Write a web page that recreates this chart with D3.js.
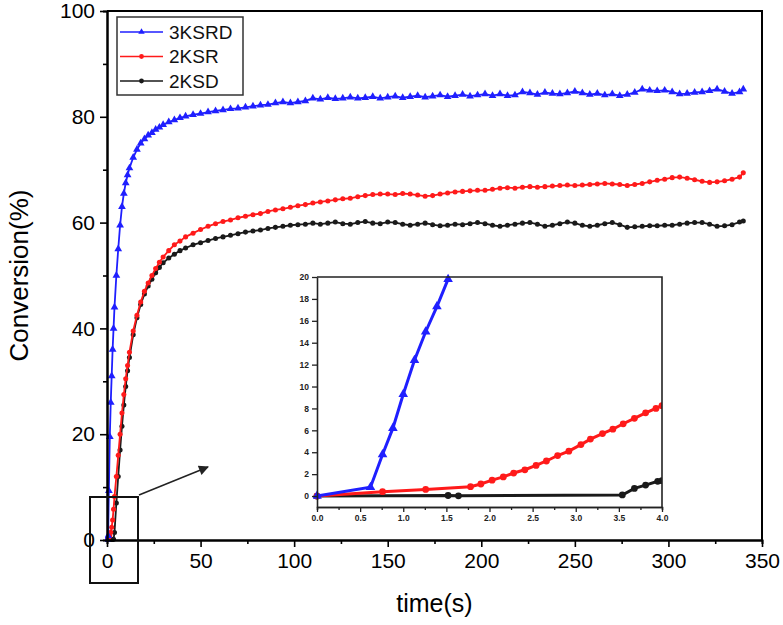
<!DOCTYPE html>
<html>
<head>
<meta charset="utf-8">
<script src="https://cdn.jsdelivr.net/npm/d3@7"></script>
<style>
body{margin:0;background:#fff;}
text{font-family:'Liberation Sans',Arial,sans-serif;}
</style>
</head>
<body>
<svg width="783" height="625"></svg>
<script>
// main chart data (time in s, conversion in %)
const times = [0,0.6,1,1.5,2,2.5,3,3.5,4,5,6,7,8,9,10,11,12,14,16,18,20,22,24,26,28,30,33,36,39,42,46,50,
  54,58,62,66,70,74,78,82,86,90,
  94,98,102,106,110,114,118,122,126,130,
  134,138,142,146,150,154,158,162,166,170,
  174,178,182,186,190,194,198,202,206,210,
  214,218,222,226,230,234,238,242,246,250,
  254,258,262,266,270,274,278,282,286,290,
  294,298,302,306,310,314,318,322,326,330,
  334,338,340];

const ksrdValues = [0,0.8,9.3,19.5,26,31,36,40,44,50,55,59.5,63,65.5,67.5,69,70.3,72.3,73.8,75,75.8,76.5,77,77.6,78,78.5,79,79.4,79.8,80.1,80.4,80.6,
  80.9,81.1,81.3,81.5,81.6,81.8,82.0,82.2,82.3,82.6,
  82.8,82.6,82.8,83.0,83.5,83.3,83.6,83.4,83.5,83.7,
  83.5,83.6,83.8,83.5,83.7,83.9,83.6,83.8,84.0,83.7,
  83.9,84.1,83.8,84.0,84.2,83.9,84.1,84.3,84.0,84.3,
  84.0,84.1,84.7,84.5,84.2,84.6,84.4,84.3,84.5,84.8,
  84.5,84.2,84.4,84.1,84.3,84.0,84.2,84.6,85.2,85.0,
  84.9,85.0,84.7,84.3,84.4,84.6,84.7,84.9,85.2,84.8,
  84.4,84.7,85.2];

const ksrValues = [0,0.35,0.5,0.75,1.45,2.4,3.8,5.8,8.2,12,16,20,24,27.5,30.5,33,35.5,39.5,42.5,45,47,48.6,50,51.3,52.5,53.5,54.7,55.8,56.5,57.3,58,58.7,
  59.3,59.8,60.2,60.5,60.9,61.2,61.5,61.7,62.1,62.4,
  62.6,62.9,63.2,63.4,63.7,63.9,64.1,64.3,64.5,64.6,
  64.9,65.1,65.3,65.4,65.4,65.3,65.5,65.4,65.2,65.0,
  65.1,65.4,65.6,65.8,65.9,66.0,66.1,66.1,66.3,66.5,
  66.6,66.5,66.7,66.8,66.7,66.8,66.9,67.0,67.1,67.0,
  67.1,67.2,67.3,67.4,67.3,67.2,67.0,67.2,67.4,67.7,
  68.0,68.2,68.5,68.6,68.4,68.1,67.8,67.6,67.7,67.9,
  68.2,68.6,69.4];

const ksdValues = [0,0,0.02,0.05,0.05,0.05,0.08,0.15,1.4,7,12,17,21.5,25.5,29,32,34.5,38.8,42,44.5,46.5,48,49.3,50.5,51.5,52.4,53.3,54,54.7,55.2,55.8,56.2,
  56.6,57.0,57.3,57.6,57.9,58.2,58.4,58.6,58.9,59.1,
  59.3,59.5,59.6,59.7,59.9,59.7,59.9,60.1,59.8,59.7,
  60.0,60.2,59.9,59.8,60.1,60.0,59.7,59.5,59.7,59.9,
  59.6,59.4,59.5,59.7,59.6,59.8,60.0,59.8,59.5,59.3,
  59.5,59.7,59.9,60.0,59.7,59.3,59.5,59.8,60.1,59.9,
  59.5,59.3,59.5,59.8,60.0,59.6,59.1,59.2,59.3,59.4,
  59.4,59.5,59.5,59.7,59.9,60.0,60.0,59.7,59.3,59.4,
  59.6,60.1,60.3];

// inset data (first 4 s)
const insetKsrdT = [0,0.62,0.76,0.88,1.0,1.13,1.26,1.39,1.52];
const insetKsrdV = [0,0.8,3.8,6.2,9.3,12.4,15.0,17.3,19.8];
const insetKsrT = [0,0.76,1.26,1.78,1.9,2.03,2.16,2.28,2.41,2.54,2.66,2.79,2.92,3.06,3.17,3.31,3.43,3.55,3.68,3.81,3.93,4.0];
const insetKsrV = [0,0.4,0.6,0.85,1.1,1.45,1.75,2.1,2.4,2.8,3.2,3.7,4.1,4.7,5.2,5.7,6.1,6.6,7.1,7.6,8.0,8.25];
const insetKsdT = [0,1.52,1.64,3.54,3.68,3.81,3.95,4.0];
const insetKsdV = [0,0.05,0.02,0.1,0.7,1.0,1.35,1.4];

const seriesNames = ['3KSRD', '2KSR', '2KSD'];
const xTicks = [0,50,100,150,200,250,300,350];
const xMinorTicks = [25,75,125,175,225,275,325];
const yTicks = [0,20,40,60,80,100];
const yMinorTicks = [10,30,50,70,90];
const insetXTicks = [0,0.5,1,1.5,2,2.5,3,3.5,4];
const insetXMinorTicks = [0.25,0.75,1.25,1.75,2.25,2.75,3.25,3.75];
const insetYTicks = [0,2,4,6,8,10,12,14,16,18,20];

const svg = d3.select('svg');
const colors = ['#1f1fff', '#ff1a1a', '#1a1a1a'];
const shapes = [d3.symbolTriangle, d3.symbolCircle, d3.symbolCircle];

const margin = {left: 107, right: 21, top: 11, bottom: 85};
const width = Number(svg.attr('width')), height = Number(svg.attr('height'));
const innerWidth = width - margin.left - margin.right;
const innerHeight = height - margin.top - margin.bottom;

const xScale = d3.scaleLinear().domain([0, 350]).range([0, innerWidth]);
const yScale = d3.scaleLinear().domain([0, 100]).range([innerHeight, 0]);

const g = svg.append('g').attr('transform', `translate(${margin.left},${margin.top})`);

g.append('clipPath').attr('id', 'mainClip')
  .append('rect').attr('x', -2).attr('y', 0).attr('width', innerWidth + 2).attr('height', innerHeight + 2);

const mainSeries = [ksrdValues, ksrValues, ksdValues].map((vals, i) => ({
  name: seriesNames[i],
  points: times.map((t, j) => ({t: t, v: vals[j]}))
}));

const plot = g.append('g').attr('clip-path', 'url(#mainClip)');
// draw black first, blue on top
[2, 1, 0].forEach(i => {
  const s = mainSeries[i];
  const line = d3.line().x(d => xScale(d.t)).y(d => yScale(d.v));
  plot.append('path').datum(s.points)
    .attr('d', line).attr('fill', 'none')
    .attr('stroke', colors[i]).attr('stroke-width', 1.8);
  plot.selectAll(null).data(s.points).enter().append('path')
    .attr('d', d3.symbol().type(shapes[i]).size(i === 0 ? 26 : 20))
    .attr('transform', d => `translate(${xScale(d.t)},${yScale(d.v)})`)
    .attr('fill', colors[i]);
});

// axes
const styleAxis = sel => {
  sel.select('.domain').attr('stroke', '#000').attr('stroke-width', 2);
  sel.selectAll('.tick line').attr('stroke', '#000').attr('stroke-width', 1.6);
  sel.selectAll('text').attr('font-size', 21).attr('fill', '#000')
    .attr('font-family', "'Liberation Sans',Arial,sans-serif");
};
const dropLabels = sel => sel.selectAll('text').remove();

g.append('g').attr('transform', `translate(0,${innerHeight})`)
  .call(d3.axisBottom(xScale).tickValues(xMinorTicks).tickSize(4))
  .call(styleAxis).call(dropLabels);
g.append('g').attr('transform', `translate(0,${innerHeight})`)
  .call(d3.axisBottom(xScale).tickValues(xTicks).tickSize(7).tickSizeOuter(0).tickPadding(6))
  .call(styleAxis);
g.append('g')
  .call(d3.axisLeft(yScale).tickValues(yMinorTicks).tickSize(4))
  .call(styleAxis).call(dropLabels);
g.append('g')
  .call(d3.axisLeft(yScale).tickValues(yTicks).tickSize(7).tickSizeOuter(0).tickPadding(5))
  .call(styleAxis);

// top and right frame
g.append('path')
  .attr('d', `M0,0H${innerWidth}V${innerHeight}`)
  .attr('fill', 'none').attr('stroke', '#000').attr('stroke-width', 2);

// axis titles
svg.append('text').attr('x', margin.left + xScale(175)).attr('y', 612)
  .attr('text-anchor', 'middle').attr('font-size', 25).text('time(s)');
svg.append('text').attr('transform', `translate(28,${margin.top + yScale(50)}) rotate(-90)`)
  .attr('text-anchor', 'middle').attr('font-size', 26).text('Conversion(%)');

// legend
const legend = svg.append('g').attr('transform', 'translate(117,17)');
legend.append('rect').attr('width', 126).attr('height', 78)
  .attr('fill', '#fff').attr('stroke', '#333').attr('stroke-width', 1.5);
seriesNames.forEach((name, i) => {
  const ly = 15 + i * 24.5;
  legend.append('line').attr('x1', 3).attr('x2', 46).attr('y1', ly).attr('y2', ly)
    .attr('stroke', colors[i]).attr('stroke-width', 1.5);
  legend.append('path').attr('d', d3.symbol().type(shapes[i]).size(18)())
    .attr('transform', `translate(24.5,${ly})`).attr('fill', colors[i]);
  legend.append('text').attr('x', 52).attr('y', ly).attr('dy', '0.36em')
    .attr('font-size', 19).attr('fill', '#111').text(name);
});

// zoom box and arrow
svg.append('defs').append('marker').attr('id', 'arrow')
  .attr('viewBox', '0 0 10 10').attr('refX', 9).attr('refY', 5)
  .attr('markerWidth', 16).attr('markerHeight', 10).attr('orient', 'auto')
  .attr('markerUnits', 'userSpaceOnUse')
  .append('path').attr('d', 'M0,0L10,5L0,10Z').attr('fill', '#222');
const zoomBox = svg.append('g');
zoomBox.append('rect').attr('x', 90).attr('y', 497).attr('width', 48).attr('height', 86)
  .attr('fill', 'none').attr('stroke', '#111').attr('stroke-width', 2);
zoomBox.append('line').attr('x1', 139).attr('y1', 495).attr('x2', 208).attr('y2', 467)
  .attr('stroke', '#222').attr('stroke-width', 1.5).attr('marker-end', 'url(#arrow)');

// inset
const inset = {left: 317, top: 277, width: 345, height: 230};
const ix = d3.scaleLinear().domain([0, 4]).range([0, inset.width]);
const iy = d3.scaleLinear().domain([-1, 20]).range([inset.height, 0]);
const ig = svg.append('g').attr('transform', `translate(${inset.left},${inset.top})`);

ig.append('clipPath').attr('id', 'insetClip')
  .append('rect').attr('x', -4).attr('y', -4).attr('width', inset.width + 4).attr('height', inset.height + 4);

const insetSeries = [
  {t: insetKsrdT, v: insetKsrdV},
  {t: insetKsrT, v: insetKsrV},
  {t: insetKsdT, v: insetKsdV}
];
const iplot = ig.append('g').attr('clip-path', 'url(#insetClip)');
[2, 1, 0].forEach(i => {
  const pts = insetSeries[i].t.map((t, j) => ({t: t, v: insetSeries[i].v[j]}));
  iplot.append('path').datum(pts)
    .attr('d', d3.line().x(d => ix(d.t)).y(d => iy(d.v)))
    .attr('fill', 'none').attr('stroke', colors[i]).attr('stroke-width', 3);
  iplot.selectAll(null).data(pts).enter().append('path')
    .attr('d', d3.symbol().type(shapes[i]).size(i === 0 ? 40 : 36))
    .attr('transform', d => `translate(${ix(d.t)},${iy(d.v)})`)
    .attr('fill', colors[i]);
});

const styleInset = sel => {
  sel.select('.domain').attr('stroke', '#222').attr('stroke-width', 1.6);
  sel.selectAll('.tick line').attr('stroke', '#222').attr('stroke-width', 1.3);
  sel.selectAll('text').attr('font-size', 8.5).attr('font-weight', 'bold').attr('fill', '#222')
    .attr('font-family', "'Liberation Sans',Arial,sans-serif");
};
ig.append('g').attr('transform', `translate(0,${inset.height})`)
  .call(d3.axisBottom(ix).tickValues(insetXMinorTicks).tickSize(3))
  .call(styleInset).call(dropLabels);
ig.append('g').attr('transform', `translate(0,${inset.height})`)
  .call(d3.axisBottom(ix).tickValues(insetXTicks).tickSize(5).tickSizeOuter(0).tickPadding(3).tickFormat(d3.format('.1f')))
  .call(styleInset);
ig.append('g')
  .call(d3.axisLeft(iy).tickValues(insetYTicks).tickSize(5).tickSizeOuter(0).tickPadding(3))
  .call(styleInset);
ig.append('path').attr('d', `M0,0H${inset.width}V${inset.height}`)
  .attr('fill', 'none').attr('stroke', '#222').attr('stroke-width', 1.6);
</script>
</body>
</html>
